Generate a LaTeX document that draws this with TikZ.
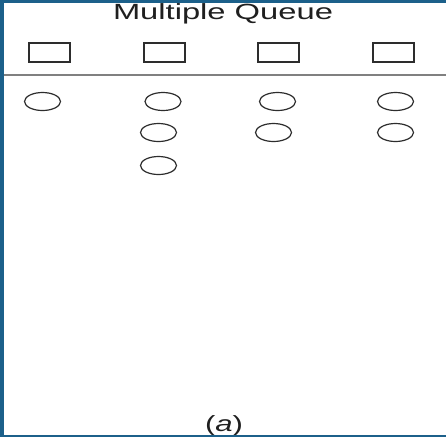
\documentclass[tikz,border=0pt]{standalone}
\usepackage{fontspec}
\setmainfont{Liberation Sans}
\usetikzlibrary{shapes.geometric}
\definecolor{frameblue}{RGB}{28,96,138}
\definecolor{inkgray}{RGB}{45,45,45}
\begin{document}
\begin{tikzpicture}[x=1pt,y=-1pt,
  slot/.style={draw=inkgray,line width=1.1pt,rectangle,minimum width=41pt,minimum height=19pt,inner sep=0pt},
  proc/.style={draw=inkgray,line width=1.2pt,ellipse,minimum width=36pt,minimum height=18pt,inner sep=0pt},
  txt/.style={inner sep=0pt,anchor=base,font=\fontsize{22}{26}\selectfont,text=black!88}]
\useasboundingbox (0,0) rectangle (446,437);
\fill[white] (0,0) rectangle (446,437);
% title
\node[txt] (title) at (223,19) {\resizebox{220pt}{\height}{Multiple Queue}};
% queue slots
\node[slot] (s1) at (49.5,52.5) {};
\node[slot] (s2) at (164.5,52.5) {};
\node[slot] (s3) at (278.5,52.5) {};
\node[slot] (s4) at (393.5,52.5) {};
% divider
\coordinate (dl) at (4,75);
\coordinate (dr) at (446,75);
\draw[line width=1.3pt,draw=black!50] (dl) -- (dr);
% processes
\node[proc] (p11) at (42.5,101.5) {};
\node[proc] (p21) at (163,101.5) {};
\node[proc] (p31) at (277.5,101.5) {};
\node[proc] (p41) at (395.5,101.5) {};
\node[proc] (p22) at (158.5,132.5) {};
\node[proc] (p32) at (273.5,132.5) {};
\node[proc] (p42) at (395.5,132.5) {};
\node[proc] (p23) at (158.5,165.5) {};
% caption
\node[txt] (cap) at (224,431) {\resizebox{38pt}{\height}{(\textit{a})}};
% frame
\fill[frameblue] (0,0) rectangle (446,3);
\fill[frameblue] (0,0) rectangle (4,437);
\fill[frameblue] (0,435) rectangle (446,437);
\end{tikzpicture}
\end{document}
